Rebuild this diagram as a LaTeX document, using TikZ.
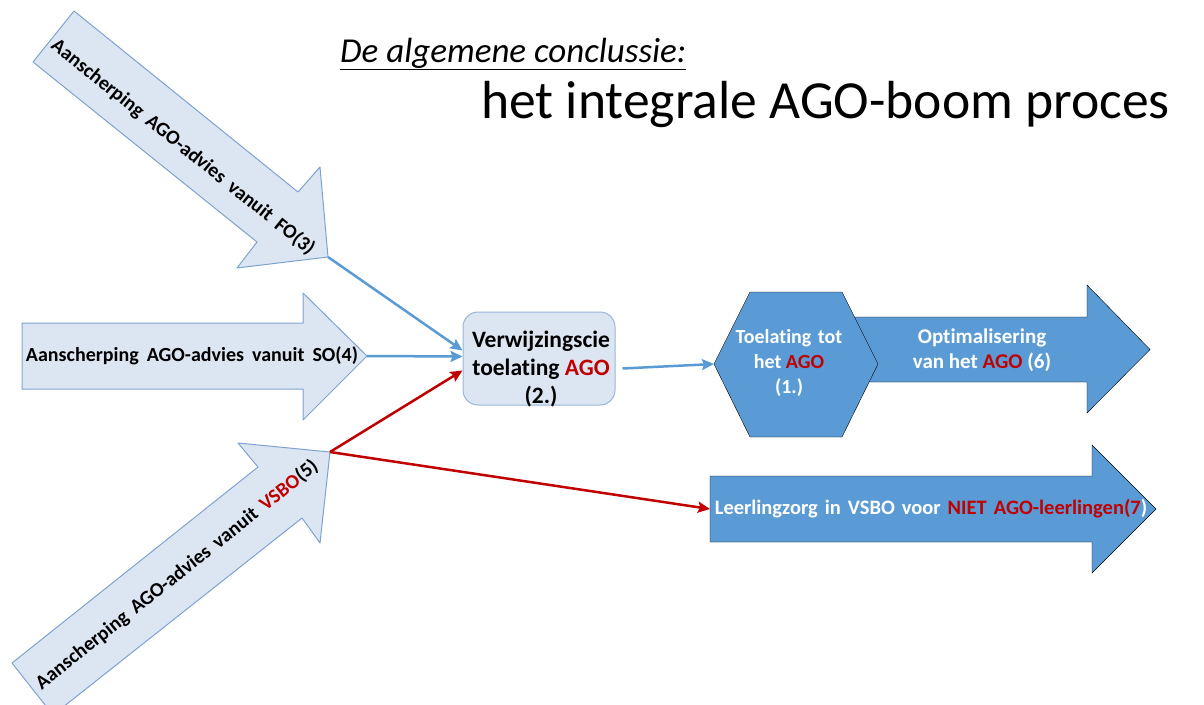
\documentclass[tikz,border=0pt]{standalone}
\usepackage{fontspec}
\setmainfont{Carlito}[Ligatures=CommonOff]
\usetikzlibrary{shapes, arrows.meta, positioning}

\definecolor{infill}{HTML}{DCE6F2}
\definecolor{inborder}{HTML}{7FA3CF}
\definecolor{outblue}{HTML}{5B9BD5}
\definecolor{agored}{HTML}{C00000}

\newcommand{\widespace}[1]{\spaceskip=#1 plus 2pt\relax}

\begin{document}
\begin{tikzpicture}[x=1pt, y=-1pt]
        % stijlen
        \tikzstyle{inshape} = [draw=inborder, fill=infill, line width=1pt, line join=round]
        \tikzstyle{outshape} = [fill=outblue]
        \tikzstyle{intext} = [font=\bfseries\fontsize{20}{24}\selectfont, text=black, inner sep=0pt]
        \tikzstyle{outtext} = [font=\bfseries\fontsize{20}{25}\selectfont, text=white, align=center, inner sep=0pt]
        \tikzstyle{box} = [rectangle, rounded corners=15pt, minimum width=152pt, minimum height=93pt, draw=inborder!80, fill=infill, line width=1pt]
        \tikzstyle{bluelink} = [draw=outblue, line width=2.5pt, -{Stealth[length=12pt, width=11pt, inset=2pt]}]
        \tikzstyle{redlink} = [draw=agored, line width=2.5pt, -{Stealth[length=12pt, width=11pt, inset=2pt]}]

        \useasboundingbox (0,0) rectangle (1204,704);
        \clip (0,0) rectangle (1204,704);

        % titel
        \node (subtitle) [anchor=base west, inner sep=0pt, font=\itshape\fontsize{35}{40}\selectfont] at (340,62) {\underline{De algemene conclussie:}};
        \node (title) [anchor=base west, inner sep=0pt, font=\fontsize{53.6}{60}\selectfont] at (481,118) {het integrale AGO-boom proces};

        % Stap 3: advies vanuit FO
        \draw [inshape] (74,11) -- (298,192) -- (320,167) -- (328,257) coordinate (fotip)
            -- (237,268) -- (257,242) -- (33,62) -- cycle;
        \node (fo) [intext, rotate=-38.8] at (183,147) {\widespace{8pt}Aanscherping AGO-advies vanuit FO(3)};

        % Stap 4: advies vanuit SO
        \draw [inshape] (22,323) -- (303,323) -- (303,293) -- (367,356) coordinate (sotip)
            -- (303,420) -- (303,389) -- (22,389) -- cycle;
        \node (so) [intext] at (192,356) {\widespace{8pt}Aanscherping AGO-advies vanuit SO(4)};

        % Stap 5: advies vanuit VSBO
        \draw [inshape] (12,663) -- (258,467) -- (238,443) -- (330,452) coordinate (vsbotip)
            -- (320,543) -- (302,518) -- (53,715) -- cycle;
        \node (vsbo) [intext, rotate=38.6] at (177,575) {\widespace{8pt}Aanscherping AGO-advies vanuit \textcolor{agored}{VSBO}(5)};

        % Stap 2: verwijzingscommissie
        \node (commissie) [box] at (539,358.5) {};
        \node (commissietext) [font=\bfseries\fontsize{23.5}{28}\selectfont, align=center, inner sep=0pt] at (541,369)
            {Verwijzingscie\\toelating \textcolor{agored}{AGO}\\(2.)};

        % Stap 1 en 6: toelating en optimalisering
        \draw [outshape] (820,317) -- (1087,317) -- (1087,285) -- (1150,349.5) -- (1087,413) -- (1087,382) -- (820,382) -- cycle;
        \draw [outshape] (714,364) coordinate (hexleft) -- (750,292) -- (842,292) -- (878,364) -- (842,437) -- (750,437) -- cycle;
        \node (toelating) [outtext] at (789,363) {\widespace{6.5pt}Toelating tot\\het \textcolor{agored}{AGO}\\(1.)};
        \node (optimalisering) [outtext, font=\bfseries\fontsize{21}{25}\selectfont] at (982,350.5) {Optimalisering\\van het \textcolor{agored}{AGO} (6)};

        % Stap 7: leerlingzorg
        \draw [outshape] (710,476) -- (1092,476) -- (1092,445) -- (1156,509) -- (1092,573) -- (1092,542) -- (710,542) -- cycle;
        \coordinate (zorgtail) at (710,509);
        \node (zorg) [outtext, font=\bfseries\fontsize{20.5}{25}\selectfont] at (931,509) {\widespace{7pt}Leerlingzorg in VSBO voor \textcolor{agored}{NIET AGO-leerlingen(7})};

        % pijlen
        \draw [bluelink] (fotip) -- ([yshift=8pt]commissie.west);
        \draw [bluelink] (sotip) -- ([yshift=2pt]commissie.west);
        \draw [redlink] (vsbotip) -- ([yshift=-12pt]commissie.west);
        \draw [redlink] (vsbotip) -- (zorgtail);
        \draw [bluelink] ([shift={(7pt,-10pt)}]commissie.east) -- (hexleft);

    \end{tikzpicture}
\end{document}
